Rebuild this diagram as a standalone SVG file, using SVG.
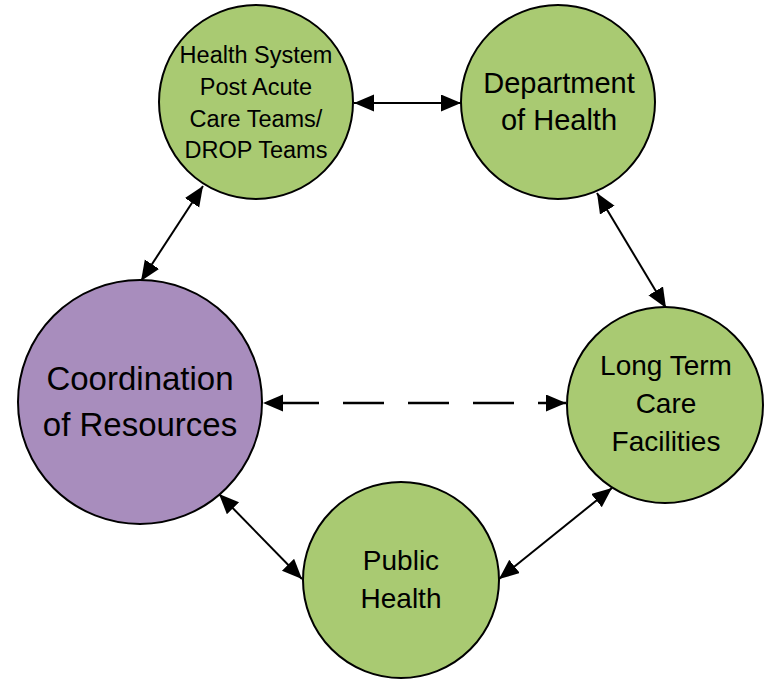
<svg xmlns="http://www.w3.org/2000/svg" width="769" height="680" viewBox="0 0 769 680">
  <style>
    .green { fill: #A9CA72; stroke: #000; stroke-width: 2; }
    .purple { fill: #A88DBD; stroke: #000; stroke-width: 2; }
    .lbl { font-family: "Liberation Sans", Arial, sans-serif; fill: #000; text-anchor: middle; }
    .conn { stroke: #000; stroke-width: 2; fill: none; marker-start: url(#arr); marker-end: url(#arr); }
    .dash { stroke-width: 2.5; stroke-dasharray: 41 24; stroke-dashoffset: 50; }
  </style>
  <defs>
    <marker id="arr" markerUnits="userSpaceOnUse" markerWidth="22" markerHeight="18" refX="20" refY="8.5" orient="auto-start-reverse" viewBox="0 0 22 18">
      <path d="M0,0 L20,8.5 L0,17 z" fill="#000"/>
    </marker>
  </defs>
  <g id="connectors">
    <line class="conn" x1="354" y1="103" x2="461" y2="103"/>
    <line class="conn" x1="203" y1="186" x2="141" y2="281"/>
    <line class="conn" x1="597" y1="193" x2="666" y2="308"/>
    <line class="conn" x1="612" y1="488" x2="499" y2="579"/>
    <line class="conn" x1="219" y1="494" x2="302" y2="579"/>
    <line class="conn dash" x1="263" y1="403" x2="566" y2="403"/>
  </g>
  <g id="health-system">
    <circle class="green" cx="256" cy="102" r="97"/>
    <text class="lbl" font-size="23.5"><tspan x="256" y="63">Health System</tspan><tspan x="256" y="95">Post Acute</tspan><tspan x="256" y="127">Care Teams/</tspan><tspan x="256" y="158">DROP Teams</tspan></text>
  </g>
  <g id="department-of-health">
    <circle class="green" cx="558" cy="102" r="97"/>
    <text class="lbl" font-size="29"><tspan x="559" y="93">Department</tspan><tspan x="559" y="130">of Health</tspan></text>
  </g>
  <g id="long-term-care">
    <circle class="green" cx="665" cy="405" r="98"/>
    <text class="lbl" font-size="28"><tspan x="666" y="375">Long Term</tspan><tspan x="666" y="413">Care</tspan><tspan x="666" y="451">Facilities</tspan></text>
  </g>
  <g id="public-health">
    <circle class="green" cx="401" cy="580" r="98"/>
    <text class="lbl" font-size="28"><tspan x="401" y="570">Public</tspan><tspan x="401" y="608">Health</tspan></text>
  </g>
  <g id="coordination">
    <circle class="purple" cx="140" cy="402" r="122"/>
    <text class="lbl" font-size="33"><tspan x="140" y="390">Coordination</tspan><tspan x="140" y="436">of Resources</tspan></text>
  </g>
</svg>
